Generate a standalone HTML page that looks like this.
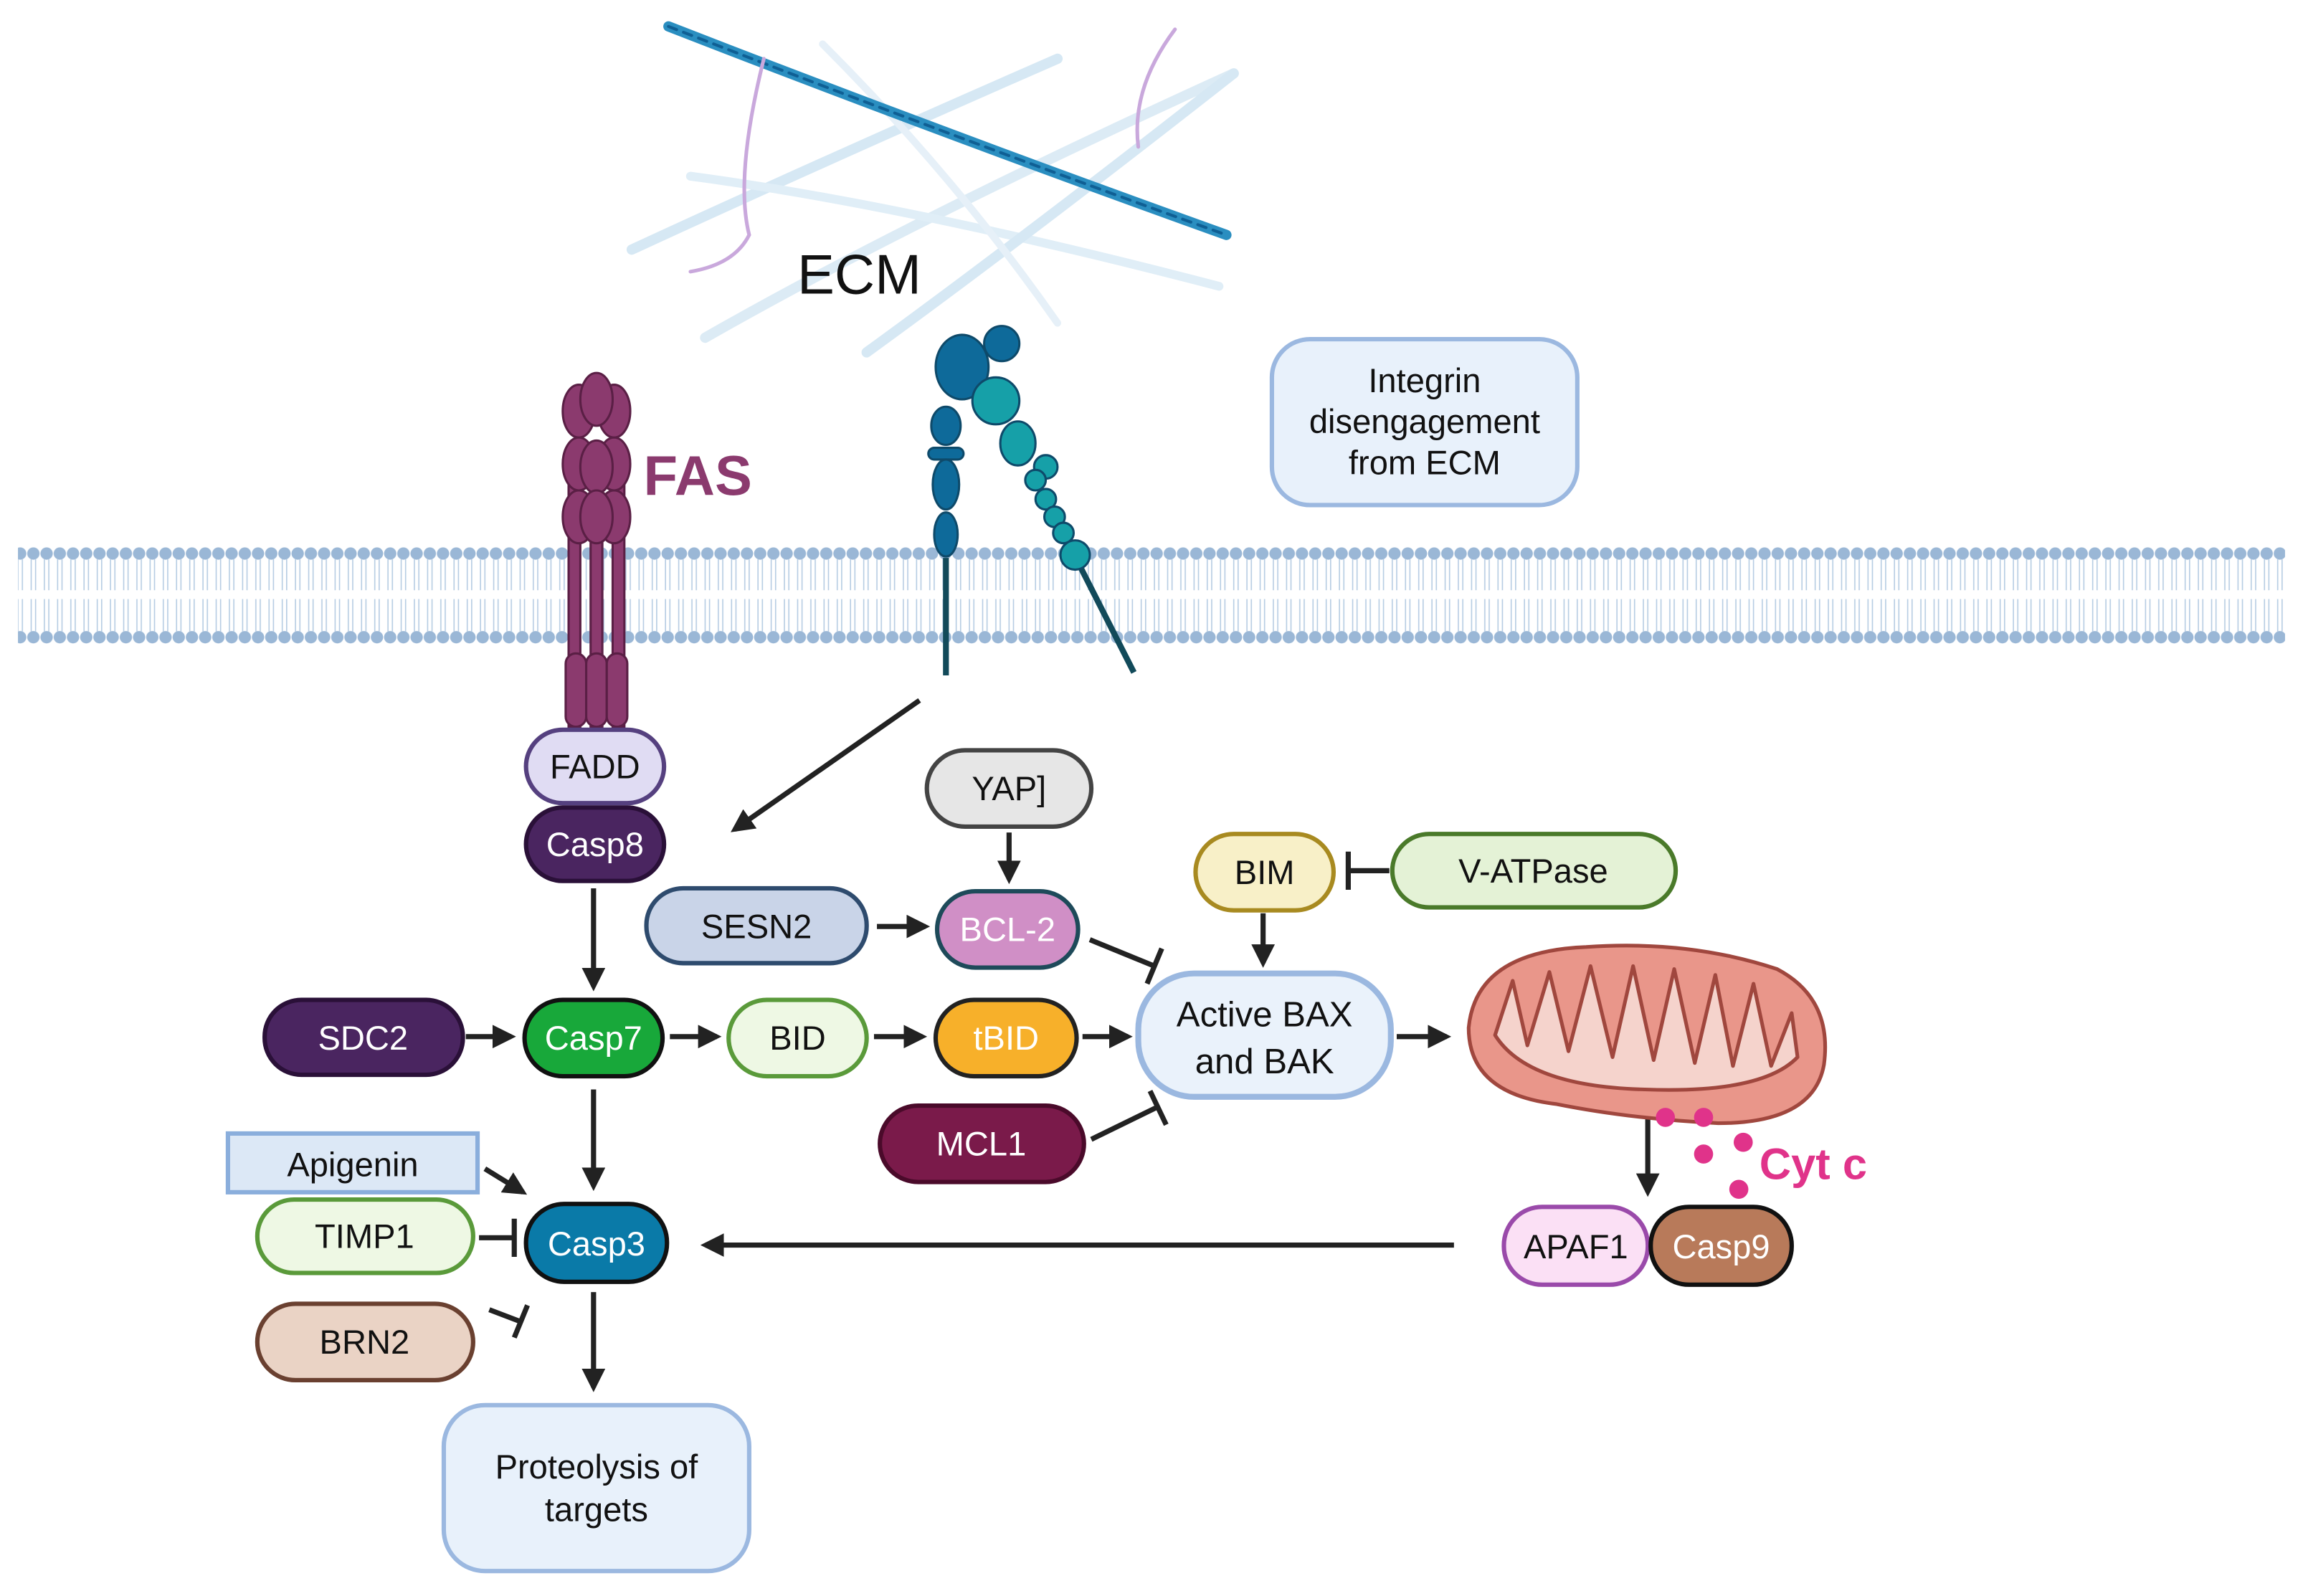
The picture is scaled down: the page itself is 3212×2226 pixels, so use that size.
<!DOCTYPE html>
<html><head><meta charset="utf-8"><style>
html,body{margin:0;padding:0;background:#fff}
svg{display:block}
text{font-family:"Liberation Sans",sans-serif}
</style></head><body>
<svg width="3212" height="2226" viewBox="0 0 1568 1087" xmlns="http://www.w3.org/2000/svg">
<defs>
<marker id="ah2" viewBox="0 0 10 10" markerWidth="16" markerHeight="16" refX="8" refY="5" orient="auto" markerUnits="userSpaceOnUse">
<path d="M0,0 L10,5 L0,10 z" fill="#222"/></marker>
<pattern id="dots" x="0" y="370" width="9" height="72" patternUnits="userSpaceOnUse">
<circle cx="4.5" cy="7" r="4.2" fill="#9ab7d6"/><circle cx="4.5" cy="64" r="4.2" fill="#9ab7d6"/>
<line x1="3" y1="11" x2="3" y2="32" stroke="#b7cde3" stroke-width="0.8"/><line x1="6" y1="11" x2="6" y2="32" stroke="#b7cde3" stroke-width="0.8"/>
<line x1="3" y1="38" x2="3" y2="60" stroke="#b7cde3" stroke-width="0.8"/><line x1="6" y1="38" x2="6" y2="60" stroke="#b7cde3" stroke-width="0.8"/>
</pattern>
</defs>

<!-- ECM -->
<g fill="none" stroke-linecap="round">
<path d="M430,170 Q560,110 720,40" stroke="#d6e8f4" stroke-width="7"/>
<path d="M480,230 Q620,150 840,50" stroke="#dcebf5" stroke-width="7"/>
<path d="M470,120 Q620,140 830,195" stroke="#e0eef7" stroke-width="6"/>
<path d="M590,240 Q700,160 840,50" stroke="#d6e8f4" stroke-width="7"/>
<path d="M560,30 Q650,120 720,220" stroke="#e6f0f8" stroke-width="5"/>
<path d="M455,18 Q640,90 835,160" stroke="#2a8ec0" stroke-width="7"/>
<path d="M455,18 Q640,90 835,160" stroke="#0f5f94" stroke-width="2" stroke-dasharray="6 5"/>
<path d="M520,40 Q500,120 510,160 Q500,180 470,185" stroke="#c9a8dc" stroke-width="2.5"/>
<path d="M800,20 Q770,60 775,100" stroke="#c9a8dc" stroke-width="2.5"/>
</g>
<text x="585" y="200" font-size="38" text-anchor="middle" fill="#111">ECM</text>

<rect x="866" y="231" width="208" height="113" rx="26" fill="#e8f1fb" stroke="#9bb8e0" stroke-width="3"/>
<text x="970" y="267" font-size="23" text-anchor="middle" fill="#111">Integrin</text>
<text x="970" y="295" font-size="23" text-anchor="middle" fill="#111">disengagement</text>
<text x="970" y="323" font-size="23" text-anchor="middle" fill="#111">from ECM</text>

<rect x="12" y="370" width="1544" height="72" fill="url(#dots)"/>

<g fill="#8b3a6e" stroke="#5a1f45" stroke-width="1.5">
<rect x="387" y="330" width="8" height="165"/><rect x="402" y="330" width="8" height="165"/><rect x="417" y="330" width="8" height="165"/>
<ellipse cx="394" cy="280" rx="11" ry="18"/><ellipse cx="418" cy="280" rx="11" ry="18"/><ellipse cx="406" cy="272" rx="11" ry="18"/>
<ellipse cx="394" cy="316" rx="11" ry="18"/><ellipse cx="418" cy="316" rx="11" ry="18"/><ellipse cx="406" cy="318" rx="11" ry="18"/>
<ellipse cx="394" cy="352" rx="11" ry="18"/><ellipse cx="418" cy="352" rx="11" ry="18"/><ellipse cx="406" cy="352" rx="11" ry="18"/>
<rect x="385" y="445" width="14" height="50" rx="7"/><rect x="399" y="445" width="14" height="50" rx="7"/><rect x="413" y="445" width="14" height="50" rx="7"/>
</g>
<text x="475" y="337" font-size="38" font-weight="bold" fill="#8b3a6e" text-anchor="middle">FAS</text>

<g stroke="#0e4a6a" stroke-width="1.5">
<line x1="644" y1="380" x2="644" y2="460" stroke="#124a5a" stroke-width="4"/>
<line x1="735" y1="385" x2="772" y2="458" stroke="#124a5a" stroke-width="4"/>
<ellipse cx="655" cy="250" rx="18" ry="22" fill="#0e6a9a"/>
<circle cx="682" cy="234" r="12" fill="#0e6a9a"/>
<ellipse cx="644" cy="290" rx="10" ry="13" fill="#0e6a9a"/>
<rect x="632" y="305" width="24" height="8" rx="4" fill="#0e6a9a"/>
<ellipse cx="644" cy="330" rx="9" ry="17" fill="#0e6a9a"/>
<ellipse cx="644" cy="364" rx="8" ry="15" fill="#0e6a9a"/>
<circle cx="678" cy="273" r="16" fill="#16a0a8"/>
<ellipse cx="693" cy="302" rx="12" ry="15" fill="#16a0a8"/>
<circle cx="712" cy="318" r="8" fill="#16a0a8"/>
<circle cx="705" cy="327" r="7" fill="#16a0a8"/>
<circle cx="712" cy="340" r="7" fill="#16a0a8"/>
<circle cx="718" cy="352" r="7" fill="#16a0a8"/>
<circle cx="724" cy="363" r="7" fill="#16a0a8"/>
<circle cx="732" cy="378" r="10" fill="#16a0a8"/>
</g>

<g stroke="#222" stroke-width="3.5" fill="none">
<line x1="626" y1="477" x2="500" y2="565" marker-end="url(#ah2)"/>
<line x1="404" y1="605" x2="404" y2="672" marker-end="url(#ah2)"/>
<line x1="404" y1="742" x2="404" y2="808" marker-end="url(#ah2)"/>
<line x1="404" y1="880" x2="404" y2="945" marker-end="url(#ah2)"/>
<line x1="317" y1="706" x2="348" y2="706" marker-end="url(#ah2)"/>
<line x1="456" y1="706" x2="488" y2="706" marker-end="url(#ah2)"/>
<line x1="595" y1="706" x2="628" y2="706" marker-end="url(#ah2)"/>
<line x1="737" y1="706" x2="768" y2="706" marker-end="url(#ah2)"/>
<line x1="597" y1="631" x2="630" y2="631" marker-end="url(#ah2)"/>
<line x1="687" y1="567" x2="687" y2="599" marker-end="url(#ah2)"/>
<line x1="860" y1="622" x2="860" y2="656" marker-end="url(#ah2)"/>
<line x1="951" y1="706" x2="985" y2="706" marker-end="url(#ah2)"/>
<line x1="1122" y1="755" x2="1122" y2="812" marker-end="url(#ah2)"/>
<line x1="990" y1="848" x2="480" y2="848" marker-end="url(#ah2)"/>
<line x1="330" y1="796" x2="356" y2="812" marker-end="url(#ah2)"/>
<line x1="742" y1="640" x2="786" y2="658"/><line x1="781" y1="670" x2="791" y2="646"/>
<line x1="743" y1="776" x2="788" y2="754"/><line x1="783" y1="743" x2="794" y2="766"/>
<line x1="946" y1="593" x2="918" y2="593"/><line x1="918" y1="580" x2="918" y2="606"/>
<line x1="326" y1="843" x2="350" y2="843"/><line x1="350" y1="830" x2="350" y2="856"/>
<line x1="333" y1="892" x2="354" y2="900"/><line x1="350" y1="911" x2="359" y2="889"/>
</g>

<g stroke-width="3" font-size="23">
<rect x="358" y="497" width="94" height="50" rx="25" fill="#e0dcf3" stroke="#55407f"/>
<text x="405" y="530" text-anchor="middle" fill="#111" stroke="none">FADD</text>
<rect x="358" y="550" width="94" height="50" rx="25" fill="#4a2560" stroke="#2a1038"/>
<text x="405" y="583" text-anchor="middle" fill="#fff" stroke="none">Casp8</text>
<rect x="631" y="511" width="112" height="52" rx="26" fill="#e6e6e6" stroke="#444"/>
<text x="687" y="545" text-anchor="middle" fill="#111" stroke="none">YAP]</text>
<rect x="440" y="605" width="150" height="51" rx="25" fill="#c9d4e8" stroke="#2e4b6e"/>
<text x="515" y="639" text-anchor="middle" fill="#111" stroke="none">SESN2</text>
<rect x="638" y="607" width="96" height="52" rx="26" fill="#d08fc6" stroke="#1e4a5a"/>
<text x="686" y="641" text-anchor="middle" fill="#fff" stroke="none">BCL-2</text>
<rect x="814" y="568" width="94" height="52" rx="26" fill="#f8f0c8" stroke="#a88a20"/>
<text x="861" y="602" text-anchor="middle" fill="#111" stroke="none">BIM</text>
<rect x="948" y="568" width="193" height="50" rx="25" fill="#e4f2d6" stroke="#4a7a2a"/>
<text x="1044" y="601" text-anchor="middle" fill="#111" stroke="none">V-ATPase</text>
<rect x="775" y="663" width="172" height="84" rx="38" fill="#eaf2fb" stroke="#9bb8e0" stroke-width="4"/>
<text x="861" y="699" text-anchor="middle" fill="#111" stroke="none" font-size="24">Active BAX</text>
<text x="861" y="731" text-anchor="middle" fill="#111" stroke="none" font-size="24">and BAK</text>
<rect x="180" y="681" width="135" height="51" rx="25" fill="#4a2560" stroke="#2a1038"/>
<text x="247" y="715" text-anchor="middle" fill="#fff" stroke="none">SDC2</text>
<rect x="357" y="681" width="94" height="52" rx="26" fill="#18a83a" stroke="#111"/>
<text x="404" y="715" text-anchor="middle" fill="#fff" stroke="none">Casp7</text>
<rect x="496" y="681" width="94" height="52" rx="26" fill="#eef8e4" stroke="#5a9a3a"/>
<text x="543" y="715" text-anchor="middle" fill="#111" stroke="none">BID</text>
<rect x="637" y="681" width="96" height="52" rx="26" fill="#f7b02a" stroke="#222"/>
<text x="685" y="715" text-anchor="middle" fill="#fff" stroke="none">tBID</text>
<rect x="599" y="753" width="139" height="52" rx="26" fill="#7a1a4a" stroke="#4a0a2a"/>
<text x="668" y="787" text-anchor="middle" fill="#fff" stroke="none">MCL1</text>
<rect x="155" y="772" width="170" height="40" fill="#dce8f6" stroke="#8aaedc"/>
<text x="240" y="801" text-anchor="middle" fill="#111" stroke="none">Apigenin</text>
<rect x="175" y="817" width="147" height="50" rx="25" fill="#eef8e4" stroke="#5a9a3a"/>
<text x="248" y="850" text-anchor="middle" fill="#111" stroke="none">TIMP1</text>
<rect x="358" y="820" width="96" height="53" rx="26" fill="#0a7aa8" stroke="#111"/>
<text x="406" y="855" text-anchor="middle" fill="#fff" stroke="none">Casp3</text>
<rect x="175" y="888" width="147" height="52" rx="26" fill="#ead3c5" stroke="#6a4030"/>
<text x="248" y="922" text-anchor="middle" fill="#111" stroke="none">BRN2</text>
<rect x="302" y="957" width="208" height="113" rx="28" fill="#e8f1fb" stroke="#9bb8e0" stroke-width="3"/>
<text x="406" y="1007" text-anchor="middle" fill="#111" stroke="none">Proteolysis of</text>
<text x="406" y="1036" text-anchor="middle" fill="#111" stroke="none">targets</text>
</g>

<path d="M1000,700 Q1005,648 1080,645 Q1150,640 1210,660 Q1248,680 1242,725 Q1235,765 1170,765 Q1110,762 1060,752 Q1000,745 1000,700 z" fill="#e9968a" stroke="#a0473e" stroke-width="2.5"/>
<path d="M1018,705 L1030,668 L1040,712 L1055,662 L1068,716 L1083,658 L1098,720 L1112,658 L1126,722 L1140,660 L1154,724 L1168,664 L1180,726 L1194,670 L1206,726 L1220,690 L1224,720 Q1200,745 1120,742 Q1040,740 1018,705 z" fill="#f5d3cc" stroke="#a0473e" stroke-width="2.5" stroke-linejoin="round"/>
<g fill="#e0338a"><circle cx="1134" cy="761" r="6.5"/><circle cx="1160" cy="761" r="6.5"/><circle cx="1187" cy="778" r="6.5"/><circle cx="1160" cy="786" r="6.5"/><circle cx="1184" cy="810" r="6.5"/></g>
<text x="1198" y="803" font-size="30" font-weight="bold" fill="#e0338a">Cyt c</text>

<g stroke-width="3" font-size="23">
<rect x="1024" y="822" width="98" height="53" rx="26" fill="#fbe0f5" stroke="#9a4aaa"/>
<text x="1073" y="857" text-anchor="middle" fill="#111" stroke="none">APAF1</text>
<rect x="1124" y="822" width="96" height="53" rx="26" fill="#b87a5a" stroke="#111"/>
<text x="1172" y="857" text-anchor="middle" fill="#fff" stroke="none">Casp9</text>
</g>
</svg>
</body></html>
